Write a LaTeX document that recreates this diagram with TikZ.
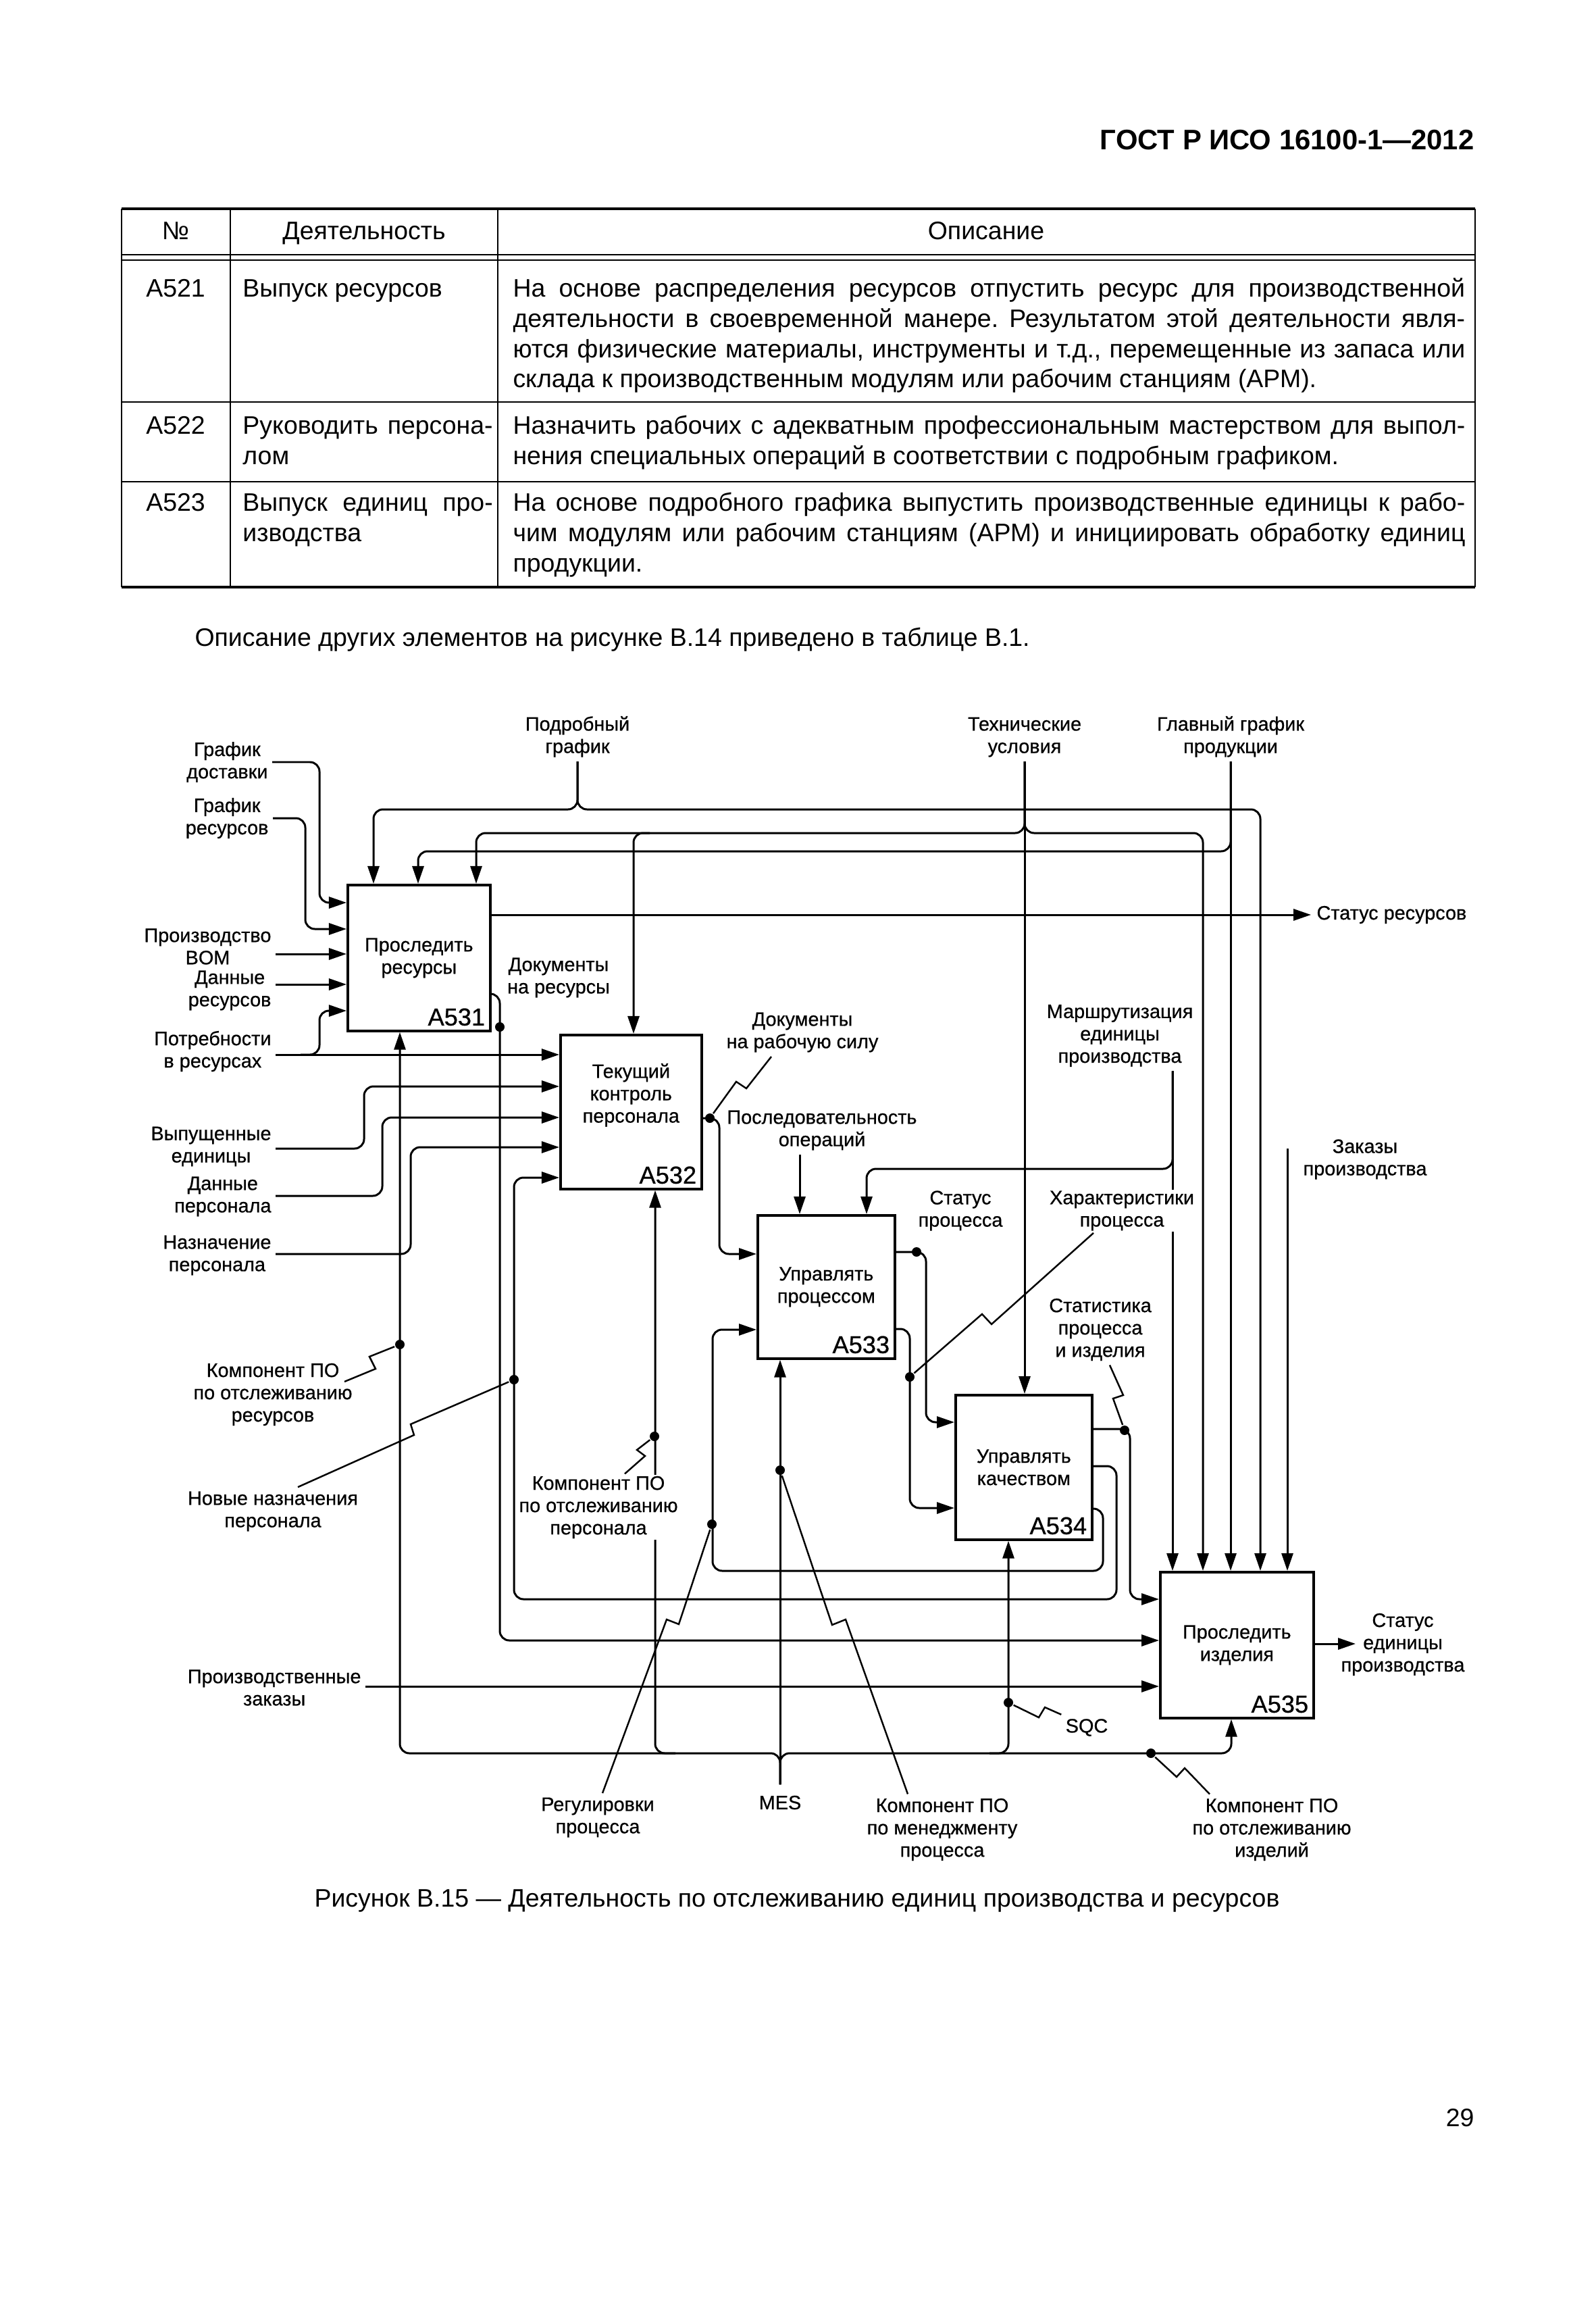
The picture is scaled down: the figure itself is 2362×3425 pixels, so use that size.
\documentclass[tikz,border=0pt]{standalone}
\usepackage{fontspec}
\setmainfont{Liberation Sans}
\newfontfamily\diafont{Liberation Sans}[FakeBold=0.6]
\usetikzlibrary{arrows.meta}
\hyphenpenalty=10000
\tolerance=9999
\frenchspacing

\begin{document}
\begin{tikzpicture}[
  x=0.01cm, y=-0.01cm,
  line width=0.85pt,
  actbox/.style={draw, line width=1pt, inner sep=0pt, anchor=north west},
  boxtxt/.style={font=\diafont\fontsize{8.2}{9.4}\selectfont, align=center, inner sep=0pt},
  anum/.style={font=\diafont\fontsize{10.3}{12}\selectfont, anchor=south east, inner sep=0.08cm},
  lbl/.style={font=\diafont\fontsize{8.2}{9.4}\selectfont, align=center, inner sep=0.05cm},
  cover/.style={lbl, fill=white, inner sep=0.02cm},
  arr/.style={-{Triangle[length=0.26cm, width=0.17cm]}},
  roundc/.style={rounded corners=0.14cm},
  jdot/.style={circle, fill, inner sep=0pt, minimum size=0.14cm},
  zz/.style={line width=0.7pt},
  txt/.style={font=\fontsize{10.65}{12.66}\selectfont, inner sep=0pt},
  trule/.style={line width=0.8pt},
  tthick/.style={line width=1.2pt},
]
  \path[use as bounding box, fill=white] (0,0) rectangle (2362,3425);

  % page head
  \node[font=\bfseries\fontsize{11.9}{14}\selectfont, anchor=base east, inner sep=0pt] (hdr) at (2184,222) {ГОСТ Р ИСО 16100-1—2012};

  % table
  \draw[tthick] (180,309) -- (2184,309);
  \draw[trule] (180,377) -- (2184,377);
  \draw[trule] (180,385) -- (2184,385);
  \draw[trule] (180,595) -- (2184,595);
  \draw[trule] (180,713) -- (2184,713);
  \draw[tthick] (180,869) -- (2184,869);
  \foreach \cx in {180,341,737,2184}
    \draw[trule] (\cx,309) -- (\cx,869);

  \node[txt, anchor=base] (hNo) at (260,355) {№};
  \node[txt, anchor=base] (hAct) at (539,355) {Деятельность};
  \node[txt, anchor=base] (hDesc) at (1460,355) {Описание};

  \node[txt, anchor=base] (r1No) at (260,440) {A521};
  \node[txt, anchor=base west, text width=3.7cm, align=justify] (r1Act) at (358,440) {Выпуск ресурсов};
  \node[txt, anchor=base west, text width=14.09cm, align=justify] (r1Desc) at (758,440)
    {На основе распределения ресурсов отпустить ресурс для производственной\linebreak
     деятельности в своевременной манере. Результатом этой деятельности явля-\linebreak
     ются физические материалы, инструменты и т.д., перемещенные из запаса или\linebreak
     склада к производственным модулям или рабочим станциям (АРМ).};

  \node[txt, anchor=base] (r2No) at (260,643) {A522};
  \node[txt, anchor=base west, text width=3.7cm, align=justify] (r2Act) at (358,643) {Руководить персона-\linebreak лом};
  \node[txt, anchor=base west, text width=14.09cm, align=justify] (r2Desc) at (758,643)
    {Назначить рабочих с адекватным профессиональным мастерством для выпол-\linebreak
     нения специальных операций в соответствии с подробным графиком.};

  \node[txt, anchor=base] (r3No) at (260,757) {A523};
  \node[txt, anchor=base west, text width=3.7cm, align=justify] (r3Act) at (358,757) {Выпуск единиц про-\linebreak изводства};
  \node[txt, anchor=base west, text width=14.09cm, align=justify] (r3Desc) at (758,757)
    {На основе подробного графика выпустить производственные единицы к рабо-\linebreak
     чим модулям или рабочим станциям (АРМ) и инициировать обработку единиц\linebreak
     продукции.};

  \node[txt, anchor=base west] (note) at (287,956) {Описание других элементов на рисунке В.14 приведено в таблице В.1.};

  % activity boxes
  \node[actbox, minimum width=2.11cm, minimum height=2.16cm] (A531) at (513,1308) {};
  \node[actbox, minimum width=2.09cm, minimum height=2.28cm] (A532) at (828,1530) {};
  \node[actbox, minimum width=2.03cm, minimum height=2.12cm] (A533) at (1120,1797) {};
  \node[actbox, minimum width=2.02cm, minimum height=2.14cm] (A534) at (1413,2063) {};
  \node[actbox, minimum width=2.27cm, minimum height=2.16cm] (A535) at (1716,2325) {};

  \node[boxtxt] (t531) at (A531.center) {Проследить\\ресурсы};
  \node[boxtxt] (t532) at ([yshift=0.25cm]A532.center) {Текущий\\контроль\\персонала};
  \node[boxtxt] (t533) at (A533.center) {Управлять\\процессом};
  \node[boxtxt] (t534) at (A534.center) {Управлять\\качеством};
  \node[boxtxt] (t535) at (A535.center) {Проследить\\изделия};
  \foreach \act in {A531,A532,A533,A534,A535}
    \node[anum] (n\act) at (\act.south east) {\act};

  % labels
  \node[lbl, anchor=south] (lPodr) at (855,1127) {Подробный\\график};
  \node[lbl, anchor=south] (lTech) at (1517,1127) {Технические\\условия};
  \node[lbl, anchor=south] (lGlav) at (1822,1127) {Главный график\\продукции};

  \node[lbl, anchor=east] (lDost) at (403,1128) {График\\доставки};
  \node[lbl, anchor=east] (lGrRes) at (404,1211) {График\\ресурсов};
  \node[lbl, anchor=east] (lBOM) at (408,1401) {Производство\\BOM};
  \node[lbl, anchor=east] (lDanRes) at (408,1466) {Данные\\ресурсов};
  \node[lbl, anchor=east] (lPotr) at (408,1556) {Потребности\\в ресурсах};
  \node[lbl, anchor=east] (lVyp) at (408,1697) {Выпущенные\\единицы};
  \node[lbl, anchor=east] (lDanPers) at (408,1771) {Данные\\персонала};
  \node[lbl, anchor=east] (lNazn) at (408,1858) {Назначение\\персонала};
  \node[lbl, anchor=east] (lProizZak) at (541,2498) {Производственные\\заказы};

  \node[lbl] (lDokRes) at (827,1447) {Документы\\на ресурсы};
  \node[lbl] (lDokRab) at (1188,1528) {Документы\\на рабочую силу};
  \node[lbl] (lPosl) at (1217,1673) {Последовательность\\операций};
  \node[lbl] (lMarsh) at (1658,1533) {Маршрутизация\\единицы\\производства};
  \node[lbl] (lStatProc) at (1422,1792) {Статус\\процесса};
  \node[lbl] (lStatist) at (1629,1968) {Статистика\\процесса\\и изделия};
  \node[lbl] (lZak) at (2021,1716) {Заказы\\производства};
  \node[lbl, anchor=west, inner sep=0.07cm] (lStatRes) at (1941,1354) {Статус ресурсов};
  \node[lbl] (lStatEd) at (2077,2434) {Статус\\единицы\\производства};
  \node[lbl] (lKompRes) at (404,2064) {Компонент ПО\\по отслеживанию\\ресурсов};
  \node[lbl] (lNovNazn) at (404,2237) {Новые назначения\\персонала};
  \node[lbl] (lReg) at (885,2690) {Регулировки\\процесса};
  \node[lbl, inner sep=0.15cm] (lMES) at (1155,2668) {MES};
  \node[lbl] (lKompMen) at (1395,2708) {Компонент ПО\\по менеджменту\\процесса};
  \node[lbl] (lSQC) at (1609,2557) {SQC};
  \node[lbl] (lKompIzd) at (1883,2708) {Компонент ПО\\по отслеживанию\\изделий};

  \coordinate (jPotr) at (445,1561);
  \coordinate (jTech) at (962,1233);
  \coordinate (jBus1) at (1000,2595);
  \coordinate (jBus2) at (1465,2595);
  \coordinate (cZak) at (1906,1700);
  \coordinate (eStatEd) at (2007,2433);
  \coordinate (eKompRes) at (510,2045);

  % inputs of A531
  \draw[arr, roundc] (lDost.east) -| (473,1336) -- (A531.west |- 0,1336);
  \draw[arr, roundc] (lGrRes.east) -| (452,1375) -- (A531.west |- 0,1375);
  \draw[arr] (lBOM.east |- 0,1412) -- (A531.west |- 0,1412);
  \draw[arr] (lDanRes.east |- 0,1457) -- (A531.west |- 0,1457);
  \draw[arr] (lPotr.east |- 0,1561) -- (A532.west |- 0,1561);
  \draw[arr, roundc] (jPotr) -| (473,1496) -- (A531.west |- 0,1496);

  % inputs of A532
  \draw[arr, roundc] (lVyp.east |- 0,1700) -| (539,1608) -- (A532.west |- 0,1608);
  \draw[arr, roundc] (lDanPers.east |- 0,1770) -| (566,1654) -- (A532.west |- 0,1654);
  \draw[arr, roundc] (lNazn.east |- 0,1856) -| (608,1698) -- (A532.west |- 0,1698);

  % controls from the top
  \draw[arr, roundc] (lPodr.south) |- (553,1198) -- (553,0 |- A531.north);
  \draw[arr, roundc] (lPodr.south) |- (1866,1198) -- (1866,0 |- A535.north);
  \draw[arr, roundc] (lTech.south) |- (705,1233) -- (705,0 |- A531.north);
  \draw[arr, roundc] (lTech.south) |- (1781,1233) -- (1781,0 |- A535.north);
  \draw[arr] (lTech.south) -- (lTech.south |- A534.north);
  \draw[arr, roundc] (jTech) -| (938,0 |- A532.north);
  \draw[arr, roundc] (lGlav.south) |- (619,1260) -- (619,0 |- A531.north);
  \draw[arr] (lGlav.south) -- (lGlav.south |- A535.north);
  \draw[arr, roundc] (lMarsh.south -| 1736,0) |- (1283,1730) -- (1283,0 |- A533.north);
  \draw[arr] (lMarsh.south -| 1736,0) -- (1736,0 |- A535.north);
  \draw[arr] (lPosl.south -| 1184,0) -- (1184,0 |- A533.north);
  \draw[arr] (cZak) -- (cZak |- A535.north);

  % outputs
  \draw[arr] (A531.east |- 0,1354) -- (lStatRes.west);
  \draw[arr, roundc] (A531.east |- 0,1471) -| (740,2428) -- (A535.west |- 0,2428);
  \draw[arr, roundc] (A532.east |- 0,1655) -| (1065,1856) -- (A533.west |- 0,1856);
  \draw[arr, roundc] (A533.east |- 0,1853) -| (1371,2105) -- (A534.west |- 0,2105);
  \draw[arr, roundc] (A533.east |- 0,1967) -| (1347,2232) -- (A534.west |- 0,2232);
  \draw[arr, roundc] (A534.east |- 0,2115) -| (1673,2367) -- (A535.west |- 0,2367);
  \draw[arr, roundc] (A534.east |- 0,2170) -| (1653,2367) -| (761,1743) -- (A532.west |- 0,1743);
  \draw[arr, roundc] (A534.east |- 0,2233) -| (1633,2325) -| (1055,1968) -- (A533.west |- 0,1968);
  \draw[arr] (A535.east |- 0,2433) -- (eStatEd);
  \draw[arr] (lProizZak.east |- 0,2496) -- (A535.west |- 0,2496);

  % mechanisms from the bottom
  \draw[arr, roundc] (lMES.north) |- (592,2595) -- (592,0 |- A531.south);
  \draw[arr, roundc] (lMES.north) |- (1823,2595) -- (1823,0 |- A535.south);
  \draw[arr] (lMES.north) -- (lMES.north |- A533.south);
  \draw[arr, roundc] (jBus1) -| (970,0 |- A532.south);
  \draw[arr, roundc] (jBus2) -| (1493,0 |- A534.south);

  % labels lying over lines
  \node[cover] (lHar) at (1661,1792) {Характеристики\\процесса};
  \node[cover] (lKompPers) at (886,2231) {Компонент ПО\\по отслеживанию\\персонала};

  % dots
  \node[jdot] (d1) at (740,1520) {};
  \node[jdot] (d2) at (1051,1655) {};
  \node[jdot] (d3) at (1357,1853) {};
  \node[jdot] (d4) at (1347,2038) {};
  \node[jdot] (d5) at (1665,2117) {};
  \node[jdot] (d6) at (592,1990) {};
  \node[jdot] (d7) at (761,2042) {};
  \node[jdot] (d8) at (969,2126) {};
  \node[jdot] (d9) at (1054,2256) {};
  \node[jdot] (d10) at (1155,2176) {};
  \node[jdot] (d11) at (1493,2520) {};
  \node[jdot] (d12) at (1704,2595) {};

  % squiggles
  \draw[zz] (d2) -- (1090,1601) -- (1105,1611) -- (lDokRab.south -| 1142,0);
  \draw[zz] (d4) -- (1454,1945) -- (1468,1960) -- (lHar.south -| 1619,0);
  \draw[zz] (d5) -- (1648,2070) -- (1663,2065) -- (lStatist.south -| 1643,0);
  \draw[zz] (d6) -- (547,2008) -- (556,2026) -- (eKompRes);
  \draw[zz] (d7) -- (608,2108) -- (613,2124) -- (lNovNazn.north -| 441,0);
  \draw[zz] (d8) -- (943,2146) -- (955,2155) -- (lKompPers.north -| 925,0);
  \draw[zz] (d9) -- (1005,2404) -- (987,2397) -- (lReg.north -| 892,0);
  \draw[zz] (d10) -- (1232,2405) -- (1252,2397) -- (lKompMen.north -| 1344,0);
  \draw[zz] (d11) -- (1538,2542) -- (1547,2527) -- (lSQC.north west);
  \draw[zz] (d12) -- (1742,2630) -- (1754,2617) -- (lKompIzd.north -| 1791,0);

  % caption and page number
  \node[txt, anchor=base] (cap) at (1180,2822) {Рисунок В.15 — Деятельность по отслеживанию единиц производства и ресурсов};
  \node[txt, anchor=base east] (pg) at (2184,3147) {29};
\end{tikzpicture}
\end{document}
